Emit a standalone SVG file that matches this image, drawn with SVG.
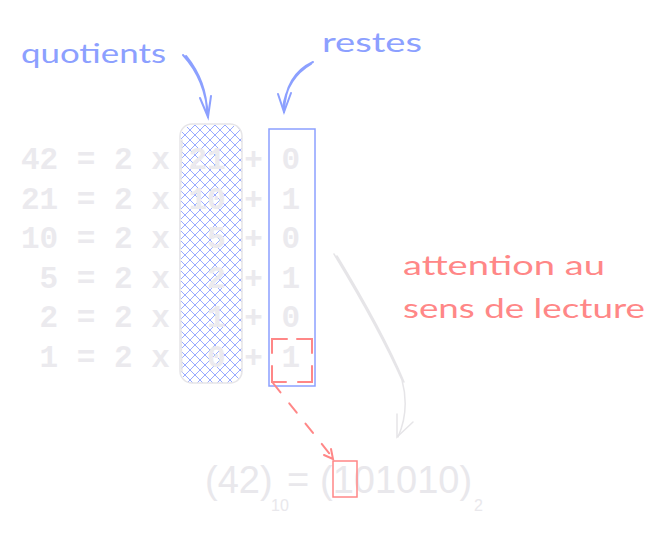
<svg xmlns="http://www.w3.org/2000/svg" width="669" height="535" viewBox="0 0 669 535">
<defs>
<style>
.eq{font-family:"Liberation Mono","DejaVu Sans Mono",monospace;font-size:31px;font-weight:bold;fill:#ebeaee;white-space:pre}
.big{font-family:"Liberation Sans",Arial,sans-serif;font-size:38px;fill:#e9e8ec}
.sub{font-family:"Liberation Sans",Arial,sans-serif;font-size:16px;fill:#e9e8ec}
.hand{font-family:"Lato","Open Sans",sans-serif;font-size:27px}
.blue{fill:#8ca0ff}
.red{fill:#ff8787}
.bl{stroke:#8ca0ff;fill:none;stroke-width:2;stroke-linecap:round}
.gr{stroke:#e6e5e8;fill:none;stroke-width:1.5;stroke-linecap:round}
.rd{stroke:#ff8787;fill:none;stroke-width:2;stroke-linecap:round}
</style>
<pattern id="hatch" patternUnits="userSpaceOnUse" width="10" height="10">
<path d="M-1,1 L1,-1 M0,10 L10,0 M9,11 L11,9 M-1,9 L1,11 M0,0 L10,10 M9,-1 L11,1" stroke="#8ca0ff" stroke-width="0.9"/>
</pattern>
</defs>
<rect width="669" height="535" fill="#ffffff"/>

<g id="quotients-box">
<rect x="181" y="125" width="61" height="258" rx="12" fill="url(#hatch)"/>
<rect x="180" y="124" width="62" height="259" rx="12" class="gr" stroke-width="1"/>
<path d="M182,140 Q178,250 182,372" class="gr" stroke-width="1"/>
</g>

<g id="equations">
<text class="eq" x="21" y="169">42 = 2 x 21 + 0</text>
<text class="eq" x="21" y="208.5">21 = 2 x 10 + 1</text>
<text class="eq" x="21" y="248">10 = 2 x  5 + 0</text>
<text class="eq" x="21" y="287.5"> 5 = 2 x  2 + 1</text>
<text class="eq" x="21" y="327"> 2 = 2 x  1 + 0</text>
<text class="eq" x="21" y="366.5"> 1 = 2 x  0 + 1</text>
</g>

<g id="restes-box">
<rect x="269" y="129" width="46" height="257" fill="none" stroke="#8ca0ff" stroke-width="1.5"/>
</g>

<g id="last-digit">
<path d="M272,353 L272,339 L287,339 M297,339 L312,339 L312,353 M312,366 L312,382 L298,382 M286,382 L272,382 L272,366" class="rd" stroke-width="2.5" stroke-linecap="butt"/>
</g>

<g id="result">
<text class="big" x="205" y="493">(42)</text>
<text class="sub" x="271" y="511">10</text>
<text class="big" x="287" y="493">=</text>
<text class="big" x="320" y="493">(101010)</text>
<text class="sub" x="474" y="511">2</text>
<rect x="333" y="461" width="24" height="36" fill="none" stroke="#ff8787" stroke-width="1.5"/>
</g>

<g id="labels">
<text class="hand blue" x="21" y="63" textLength="145" lengthAdjust="spacingAndGlyphs">quotients</text>
<text class="hand blue" x="322" y="52" textLength="100" lengthAdjust="spacingAndGlyphs">restes</text>
<text class="hand red" x="403" y="275" textLength="202" lengthAdjust="spacingAndGlyphs">attention au</text>
<text class="hand red" x="403" y="318" textLength="242" lengthAdjust="spacingAndGlyphs">sens de lecture</text>
</g>

<g id="connectors">
<path d="M183,55 Q206,80 208,117 M186,56 Q207,82 207,114" class="bl"/>
<path d="M200,98 L208,117 L211,96" class="bl"/>
<path d="M313,62 Q285,75 284,112 M311,64 Q287,78 283,108" class="bl"/>
<path d="M278,94 L284,112 L291,93" class="bl"/>
<path d="M334,254 Q380,330 402,380 Q410,410 398,437 M337,256 Q383,332 404,382" class="gr"/>
<path d="M397,414 L397,437 L413,422" class="gr"/>
<path d="M273,383 L333,458" class="rd" stroke-width="2.5" stroke-dasharray="12 14"/>
<path d="M324,455 L333,459 L331,449" class="rd" stroke-width="2.5"/>
</g>
</svg>
